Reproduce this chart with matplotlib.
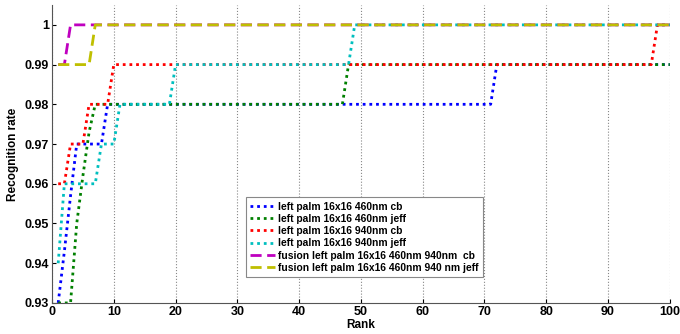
import matplotlib
matplotlib.use("Agg")
import matplotlib.pyplot as plt

plt.rcParams['font.family'] = ['Liberation Sans', 'DejaVu Sans']
plt.rcParams['font.weight'] = 'bold'

# recognition rate per rank (1..100)
rank = list(range(1, 101))
cb_460 = [0.93, 0.943, 0.957] + [0.97] * 5 + [0.98] * 63 + [0.99] * 29
jeff_460 = [0.93] * 3 + [0.95, 0.962, 0.973] + [0.98] * 41 + [0.99] * 53
cb_940 = [0.96, 0.96] + [0.97] * 3 + [0.98] * 4 + [0.99] * 88 + [1.0] * 3
jeff_940 = [0.94] + [0.96] * 6 + [0.97] * 3 + [0.98] * 9 + [0.99] * 29 + [1.0] * 52
fusion_cb = [0.99] * 2 + [1.0] * 98
fusion_jeff = [0.99] * 6 + [1.0] * 94

labels = ['left palm 16x16 460nm cb',
          'left palm 16x16 460nm jeff',
          'left palm 16x16 940nm cb',
          'left palm 16x16 940nm jeff',
          'fusion left palm 16x16 460nm 940nm  cb',
          'fusion left palm 16x16 460nm 940 nm jeff']

yticks = [0.93, 0.94, 0.95, 0.96, 0.97, 0.98, 0.99, 1.0]
yticklabels = ['0.93', '0.94', '0.95', '0.96', '0.97', '0.98', '0.99', '1']
xticks = list(range(0, 101, 10))

fig = plt.figure(figsize=(6.8, 3.34), dpi=100)
ax = fig.add_axes([0.0765, 0.093, 0.9085, 0.892])

dot = (0, (1, 1.4))
dash = (0, (4, 2))
ax.plot(rank, cb_460, ls=dot, color=(0, 0, 1), lw=2, label=labels[0])
ax.plot(rank, jeff_460, ls=dot, color=(0, 0.5, 0), lw=2, label=labels[1])
ax.plot(rank, cb_940, ls=dot, color=(1, 0, 0), lw=2, label=labels[2])
ax.plot(rank, jeff_940, ls=dot, color=(0, 0.75, 0.75), lw=2, label=labels[3])
ax.plot(rank, fusion_cb, ls=dash, color=(0.75, 0, 0.75), lw=2, label=labels[4])
ax.plot(rank, fusion_jeff, ls=dash, color=(0.75, 0.75, 0), lw=2, label=labels[5])

ax.set_xlim(0, 100)
ax.set_ylim(0.93, 1.005)
ax.set_xticks(xticks)
ax.set_yticks(yticks)
ax.set_yticklabels(yticklabels)
ax.tick_params(direction='in', length=3, labelsize=9, width=0.8, pad=2)
for lab in ax.get_xticklabels() + ax.get_yticklabels():
    lab.set_fontweight('bold')

ax.spines['top'].set_visible(False)
ax.spines['right'].set_visible(False)
ax.spines['left'].set_color('#555555')
ax.spines['bottom'].set_color('#555555')
ax.xaxis.grid(True, linestyle=':', color='#888888', lw=0.8)
ax.set_axisbelow(True)

ax.set_xlabel('Rank', fontsize=8.5, fontweight='bold', labelpad=1)
ax.set_ylabel('Recognition rate', fontsize=8.5, fontweight='bold', labelpad=4)

leg = ax.legend(loc='lower left', bbox_to_anchor=(0.306, 0.07),
                prop={'weight': 'bold', 'size': 7.4}, fancybox=False,
                edgecolor='#888888', framealpha=1, handlelength=2.4,
                labelspacing=0.22, handletextpad=0.3, borderpad=0.4)
leg.get_frame().set_linewidth(0.8)

fig.savefig('out.png', dpi=100)
